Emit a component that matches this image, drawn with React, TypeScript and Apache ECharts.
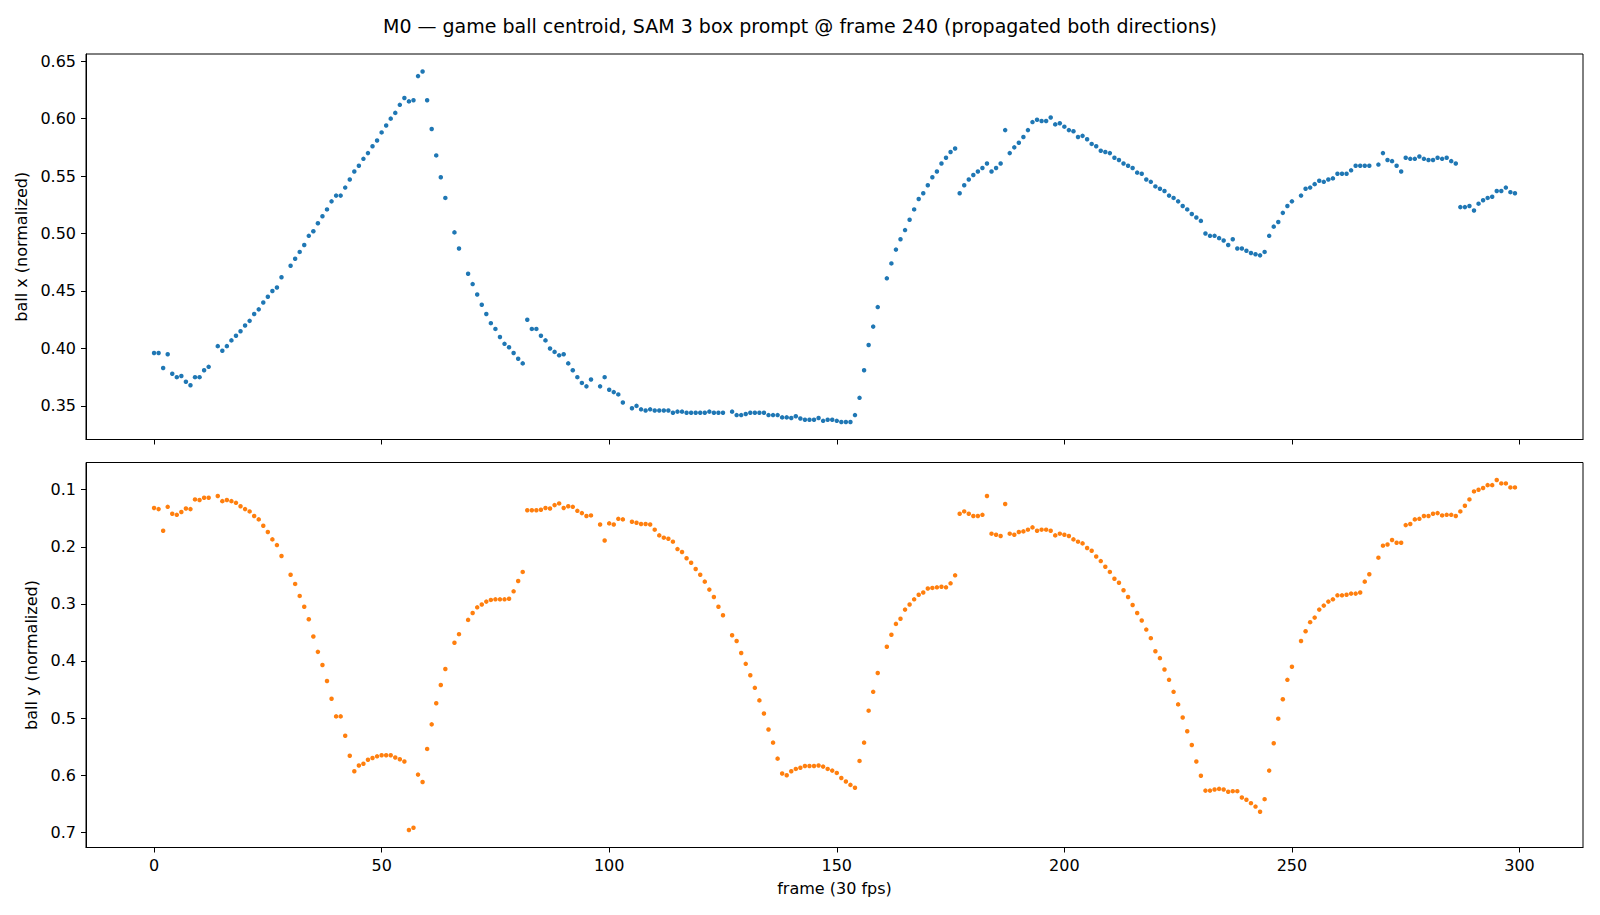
import React, { useEffect, useRef } from "react";
import * as echarts from "echarts";

// Tick positions for the shared frame axis and the two value axes
const FRAME_TICKS = [0, 50, 100, 150, 200, 250, 300];
const BALL_X_TICKS = [0.35, 0.4, 0.45, 0.5, 0.55, 0.6, 0.65];
const BALL_Y_TICKS = [0.1, 0.2, 0.3, 0.4, 0.5, 0.6, 0.7];

// Normalized ball centroid x per frame (index = frame, null = no mask)
const ballX: (number | null)[] = [
  0.396, 0.396, 0.383, 0.395, 0.378, 0.375, 0.376, 0.371, 0.368, 0.375,
  0.375, 0.381, 0.384, null, 0.402, 0.398, 0.402, 0.407, 0.411, 0.415,
  0.420, 0.424, 0.430, 0.434, 0.440, 0.445, 0.450, 0.453, 0.462, null,
  0.472, 0.478, 0.484, 0.490, 0.498, 0.502, 0.509, 0.515, 0.521, 0.528,
  0.533, 0.533, 0.540, 0.547, 0.554, 0.559, 0.565, 0.570, 0.576, 0.581,
  0.588, 0.594, 0.600, 0.605, 0.612, 0.618, 0.615, 0.616, 0.637, 0.641,
  0.616, 0.591, 0.568, 0.549, 0.531, null, 0.501, 0.487, null, 0.465,
  0.456, 0.447, 0.438, 0.430, 0.422, 0.417, 0.410, 0.404, 0.401, 0.396,
  0.391, 0.387, 0.425, 0.417, 0.417, 0.411, 0.407, 0.400, 0.397, 0.394,
  0.395, 0.387, 0.381, 0.375, 0.370, 0.367, 0.373, null, 0.367, 0.375,
  0.364, 0.362, 0.360, 0.353, null, 0.348, 0.350, 0.347, 0.346, 0.347,
  0.346, 0.346, 0.346, 0.346, 0.344, 0.345, 0.345, 0.344, 0.344, 0.344,
  0.344, 0.344, 0.345, 0.344, 0.344, 0.344, null, 0.345, 0.342, 0.342,
  0.343, 0.344, 0.344, 0.344, 0.344, 0.342, 0.342, 0.342, 0.340, 0.340,
  0.3395, 0.341, 0.339, 0.338, 0.338, 0.338, 0.3395, 0.337, 0.338, 0.338,
  0.337, 0.336, 0.336, 0.336, 0.342, 0.357, 0.381, 0.403, 0.419, 0.436,
  null, 0.461, 0.474, 0.486, 0.495, 0.503, 0.512, 0.521, 0.530, 0.535,
  0.542, 0.549, 0.554, 0.561, 0.566, 0.571, 0.574, 0.535, 0.542, 0.547,
  0.551, 0.554, 0.557, 0.561, 0.554, 0.557, 0.561, 0.590, 0.570, 0.575,
  0.579, 0.584, 0.590, 0.597, 0.599, 0.598, 0.598, 0.601, 0.595, 0.596,
  0.593, 0.590, 0.589, 0.584, 0.585, 0.582, 0.578, 0.576, 0.572, 0.571,
  0.570, 0.566, 0.564, 0.561, 0.559, 0.557, 0.553, 0.552, 0.547, 0.545,
  0.541, 0.539, 0.537, 0.533, 0.531, 0.528, 0.524, 0.521, 0.517, 0.514,
  0.511, 0.500, 0.498, 0.498, 0.496, 0.494, 0.490, 0.495, 0.487, 0.487,
  0.485, 0.483, 0.482, 0.481, 0.484, 0.498, 0.506, 0.510, 0.518, 0.524,
  0.528, null, 0.533, 0.539, 0.540, 0.543, 0.546, 0.545, 0.547, 0.548,
  0.552, 0.552, 0.552, 0.555, 0.559, 0.559, 0.559, 0.559, null, 0.560,
  0.570, 0.564, 0.563, 0.559, 0.554, 0.566, 0.565, 0.565, 0.567, 0.565,
  0.564, 0.564, 0.566, 0.565, 0.566, 0.563, 0.561, 0.523, 0.523, 0.524,
  0.520, 0.526, 0.529, 0.531, 0.532, 0.537, 0.537, 0.540, 0.536, 0.535,
];

// Normalized ball centroid y per frame (index = frame, null = no mask)
const ballY: (number | null)[] = [
  0.132, 0.134, 0.172, 0.130, 0.142, 0.144, 0.139, 0.133, 0.134, 0.117,
  0.118, 0.114, 0.114, null, 0.111, 0.120, 0.118, 0.120, 0.123, 0.129,
  0.134, 0.138, 0.146, 0.152, 0.163, 0.174, 0.187, 0.197, 0.216, null,
  0.249, 0.265, 0.286, 0.305, 0.327, 0.357, 0.384, 0.407, 0.435, 0.466,
  0.497, 0.497, 0.531, 0.566, 0.593, 0.583, 0.580, 0.573, 0.570, 0.567,
  0.565, 0.565, 0.565, 0.569, 0.572, 0.576, 0.696, 0.692, 0.599, 0.612,
  0.554, 0.511, 0.474, 0.442, 0.414, null, 0.368, 0.353, null, 0.328,
  0.316, 0.306, 0.301, 0.296, 0.293, 0.292, 0.292, 0.292, 0.291, 0.278,
  0.260, 0.244, 0.136, 0.136, 0.136, 0.135, 0.132, 0.133, 0.127, 0.124,
  0.132, 0.129, 0.130, 0.137, 0.141, 0.146, 0.145, null, 0.161, 0.189,
  0.159, 0.161, 0.151, 0.152, null, 0.156, 0.158, 0.160, 0.160, 0.161,
  0.170, 0.180, 0.184, 0.186, 0.191, 0.204, 0.209, 0.220, 0.228, 0.239,
  0.249, 0.261, 0.275, 0.288, 0.305, 0.320, null, 0.355, 0.365, 0.386,
  0.405, 0.425, 0.447, 0.469, 0.492, 0.520, 0.543, 0.571, 0.597, 0.600,
  0.593, 0.589, 0.587, 0.584, 0.584, 0.584, 0.583, 0.585, 0.589, 0.592,
  0.596, 0.605, 0.611, 0.617, 0.622, 0.575, 0.543, 0.487, 0.454, 0.421,
  null, 0.375, 0.354, 0.335, 0.326, 0.310, 0.301, 0.292, 0.284, 0.280,
  0.273, 0.272, 0.271, 0.270, 0.271, 0.264, 0.250, 0.142, 0.138, 0.142,
  0.146, 0.146, 0.144, 0.111, 0.177, 0.179, 0.181, 0.125, 0.177, 0.179,
  0.174, 0.173, 0.170, 0.166, 0.172, 0.170, 0.170, 0.172, 0.180, 0.177,
  0.179, 0.181, 0.187, 0.191, 0.194, 0.202, 0.207, 0.217, 0.225, 0.235,
  0.244, 0.256, 0.263, 0.276, 0.288, 0.302, 0.316, 0.329, 0.345, 0.360,
  0.383, 0.395, 0.415, 0.433, 0.454, 0.476, 0.499, 0.523, 0.547, 0.576,
  0.601, 0.627, 0.627, 0.625, 0.624, 0.625, 0.629, 0.628, 0.628, 0.639,
  0.643, 0.649, 0.655, 0.664, 0.642, 0.592, 0.544, 0.501, 0.467, 0.433,
  0.410, null, 0.365, 0.348, 0.332, 0.324, 0.310, 0.303, 0.296, 0.292,
  0.285, 0.285, 0.284, 0.282, 0.282, 0.280, 0.261, 0.248, null, 0.219,
  0.198, 0.196, 0.188, 0.193, 0.193, 0.162, 0.160, 0.152, 0.151, 0.146,
  0.146, 0.142, 0.141, 0.145, 0.144, 0.144, 0.146, 0.138, 0.128, 0.117,
  0.103, 0.100, 0.097, 0.092, 0.092, 0.083, 0.089, 0.089, 0.096, 0.096,
];

const FONT = "DejaVu Sans";
const BLUE = "#1f77b4";
const ORANGE = "#ff7f0e";

function toPoints(values: (number | null)[]): [number, number][] {
  const pts: [number, number][] = [];
  values.forEach((v, i) => {
    if (v !== null) pts.push([i, v]);
  });
  return pts;
}

// Data limits padded by 5% on each side
function padded(values: number[], frac = 0.05): [number, number] {
  const lo = Math.min(...values);
  const hi = Math.max(...values);
  const m = (hi - lo) * frac;
  return [lo - m, hi + m];
}

export default function App() {
  const ref = useRef<HTMLDivElement>(null);

  useEffect(() => {
    if (!ref.current) return;
    const chart = echarts.init(ref.current, undefined, { renderer: "svg" });

    const xPts = toPoints(ballX);
    const yPts = toPoints(ballY);
    const [fMin, fMax] = padded([0, ballX.length - 1]);
    const [xMin, xMax] = padded(xPts.map((p) => p[1]));
    const [yMin, yMax] = padded(yPts.map((p) => p[1]));

    const tickStyle = { show: true, inside: false, length: 5, lineStyle: { color: "#000", width: 1 } };
    const labelStyle = { color: "#000", fontFamily: FONT, fontSize: 16, margin: 10 };
    const nameStyle = { color: "#000", fontFamily: FONT, fontSize: 16 };

    const frameAxis = (gridIndex: number, showLabels: boolean) => ({
      type: "value",
      gridIndex,
      min: fMin,
      max: fMax,
      splitLine: { show: false },
      axisLine: { show: true, onZero: false, lineStyle: { color: "#000", width: 1 } },
      axisTick: { ...tickStyle, customValues: FRAME_TICKS },
      axisLabel: {
        ...labelStyle,
        show: showLabels,
        customValues: FRAME_TICKS,
        formatter: (v: number) => String(Math.round(v)),
      },
      name: showLabels ? "frame (30 fps)" : "",
      nameLocation: "middle",
      nameGap: 33,
      nameTextStyle: nameStyle,
    });

    chart.setOption({
      animation: false,
      backgroundColor: "#fff",
      title: {
        text: "M0 \u2014 game ball centroid, SAM 3 box prompt @ frame 240 (propagated both directions)",
        left: "center",
        top: 11,
        textStyle: { color: "#000", fontFamily: FONT, fontSize: 19, fontWeight: "normal" },
      },
      grid: [
        { left: 86, right: 17, top: 54, height: 385.5, show: true, borderColor: "#000", borderWidth: 1 },
        { left: 86, right: 17, top: 462.5, height: 385, show: true, borderColor: "#000", borderWidth: 1 },
      ],
      xAxis: [frameAxis(0, false), frameAxis(1, true)],
      yAxis: [
        {
          type: "value",
          gridIndex: 0,
          min: xMin,
          max: xMax,
          splitLine: { show: false },
          axisLine: { show: true, onZero: false, lineStyle: { color: "#000", width: 1 } },
          axisTick: { ...tickStyle, customValues: BALL_X_TICKS },
          axisLabel: { ...labelStyle, customValues: BALL_X_TICKS, formatter: (v: number) => v.toFixed(2) },
          name: "ball x (normalized)",
          nameLocation: "middle",
          nameGap: 49,
          nameTextStyle: nameStyle,
        },
        {
          type: "value",
          gridIndex: 1,
          inverse: true,
          min: yMin,
          max: yMax,
          splitLine: { show: false },
          axisLine: { show: true, onZero: false, lineStyle: { color: "#000", width: 1 } },
          axisTick: { ...tickStyle, customValues: BALL_Y_TICKS },
          axisLabel: { ...labelStyle, customValues: BALL_Y_TICKS, formatter: (v: number) => v.toFixed(1) },
          name: "ball y (normalized)",
          nameLocation: "middle",
          nameGap: 39,
          nameTextStyle: nameStyle,
        },
      ],
      series: [
        {
          type: "scatter",
          name: "ball x",
          xAxisIndex: 0,
          yAxisIndex: 0,
          data: xPts,
          symbolSize: 4.5,
          itemStyle: { color: BLUE, opacity: 1 },
        },
        {
          type: "scatter",
          name: "ball y",
          xAxisIndex: 1,
          yAxisIndex: 1,
          data: yPts,
          symbolSize: 4.5,
          itemStyle: { color: ORANGE, opacity: 1 },
        },
      ],
    });

    return () => chart.dispose();
  }, []);

  return (
    <div
      ref={ref}
      style={{ position: "absolute", left: 0, top: 0, width: 1600, height: 915, background: "#fff" }}
    />
  );
}
